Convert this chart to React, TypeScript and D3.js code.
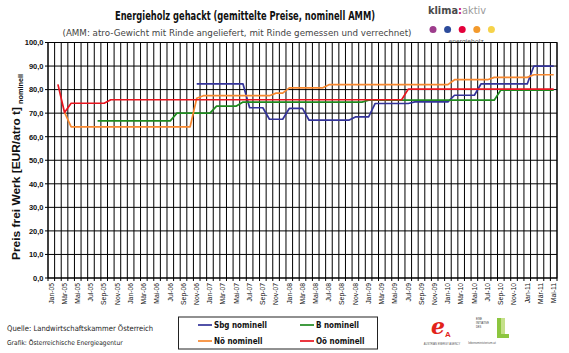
import { scaleBand, scaleLinear, line, range } from "d3";

// month names as printed on the axis, years 2005..2011, last month Mai-11
const monthNames = ["Jan", "Feb", "Mär", "Apr", "Mai", "Jun", "Jul", "Aug", "Sep", "Okt", "Nov", "Dez"];
const yearLabels = ["05", "06", "07", "08", "09", "10", "11"];
const lastMonthCount = 5;

const categories: string[] = yearLabels.flatMap((y, yi) =>
  monthNames.slice(0, yi === yearLabels.length - 1 ? lastMonthCount : 12).map((m) => `${m}-${y}`)
);

const yTicks = [0, 10, 20, 30, 40, 50, 60, 70, 80, 90, 100];

// EUR/atro t, one value per month (null = no data)
const sbg: (number | null)[] = [
  null, null, null, null, null, null, null, null, null, null, null, null,
  null, null, null, null, null, null, null, null, null, null, 82.4, 82.4,
  82.4, 82.4, 82.4, 82.4, 82.4, 82.4, 72.3, 72.3, 72.3, 67.4, 67.4, 67.4,
  72.0, 72.0, 72.0, 67.0, 67.0, 67.0, 67.0, 67.0, 67.0, 67.0, 68.4, 68.4,
  68.4, 74.1, 74.1, 74.1, 74.1, 74.1, 74.1, 74.8, 74.8, 74.8, 74.8, 74.8,
  74.8, 77.6, 77.6, 77.6, 77.6, 82.4, 82.4, 82.4, 82.4, 82.4, 82.4, 82.4,
  82.4, 90.0, 90.0, 90.0, 90.0,
];
const bgl: (number | null)[] = [
  null, null, null, null, null, null, null, 66.7, 66.7, 66.7, 66.7, 66.7,
  66.7, 66.7, 66.7, 66.7, 66.7, 66.7, 66.7, 70.0, 70.0, 70.0, 70.0, 70.0,
  70.0, 73.0, 73.0, 73.0, 73.0, 74.7, 74.7, 74.7, 74.7, 74.7, 74.7, 74.7,
  74.7, 74.7, 74.7, 74.7, 74.7, 74.7, 74.7, 74.7, 74.7, 74.7, 74.7, 74.7,
  75.5, 75.5, 75.5, 75.5, 75.5, 75.5, 75.5, 75.5, 75.5, 75.5, 75.5, 75.5,
  75.5, 75.5, 75.5, 75.5, 75.5, 75.5, 75.5, 75.5, 79.8, 79.8, 79.8, 79.8,
  79.8, 79.8, 79.8, 79.8, 79.8,
];
const noe: (number | null)[] = [
  null, null, 70.3, 64.2, 64.2, 64.2, 64.2, 64.2, 64.2, 64.2, 64.2, 64.2,
  64.2, 64.2, 64.2, 64.2, 64.2, 64.2, 64.2, 64.2, 64.2, 64.2, 76.3, 77.4,
  77.4, 77.4, 77.4, 77.4, 77.4, 77.4, 77.4, 77.4, 77.4, 77.4, 78.5, 78.5,
  80.7, 80.7, 80.7, 80.7, 80.7, 80.7, 82.1, 82.1, 82.1, 82.1, 82.1, 82.1,
  82.1, 82.1, 82.1, 82.1, 82.1, 82.1, 82.1, 82.1, 82.1, 82.1, 82.1, 82.1,
  82.1, 84.2, 84.2, 84.2, 84.2, 84.2, 84.2, 85.2, 85.2, 85.2, 85.2, 85.2,
  85.2, 86.3, 86.3, 86.3, 86.3,
];
const ooe: (number | null)[] = [
  null, 82.2, 70.3, 74.2, 74.2, 74.2, 74.2, 74.2, 74.2, 75.7, 75.7, 75.7,
  75.7, 75.7, 75.7, 75.7, 75.7, 75.7, 75.7, 75.7, 75.7, 75.7, 75.7, 75.7,
  75.7, 75.7, 75.7, 75.7, 75.7, 75.7, 75.7, 75.7, 75.7, 75.7, 75.7, 75.7,
  75.7, 75.7, 75.7, 75.7, 75.7, 75.7, 75.7, 75.7, 75.7, 75.7, 75.7, 75.7,
  75.7, 75.7, 75.7, 75.7, 75.7, 75.7, 80.2, 80.2, 80.2, 80.2, 80.2, 80.2,
  80.2, 80.2, 80.2, 80.2, 80.2, 80.2, 80.2, 80.2, 80.2, 80.2, 80.2, 80.2,
  80.2, 80.2, 80.2, 80.2, 80.2,
];

const series = [
  { name: "Sbg nominell", values: sbg, color: "#333399" },
  { name: "B nominell", values: bgl, color: "#1f8a1f" },
  { name: "Nö nominell", values: noe, color: "#f7882f" },
  { name: "Oö nominell", values: ooe, color: "#e8141e" },
];

const font = "'Liberation Sans', Arial, sans-serif";
const condensed = "'DejaVu Sans Condensed', 'Liberation Sans Narrow', Arial, sans-serif";

export default function App() {
  const W = 569;
  const H = 353;
  const left = 48;
  const right = 557;
  const top = 42.5;
  const bottom = 278;

  const x = scaleBand<string>().domain(categories).range([left, right]).padding(0);
  const y = scaleLinear().domain([0, 100]).range([bottom, top]);
  const bw = x.bandwidth();
  const cx = (i: number) => (x(categories[i]) ?? 0) + bw / 2;

  const path = line<number | null>()
    .defined((d) => d != null)
    .x((_, i) => cx(i))
    .y((d) => y(d as number));

  const gridX = range(categories.length + 1).map((i) => left + i * bw);

  const legendRows = [
    [series[0], series[1]],
    [series[2], series[3]],
  ];

  return (
    <svg
      width={W}
      height={H}
      style={{ position: "absolute", left: 0, top: 0, background: "#fff" }}
      fontFamily={font}
    >
      {/* title */}
      <text x={245} y={20} textAnchor="middle" fontFamily={condensed} fontWeight="bold" fontSize={11.5} textLength={260} lengthAdjust="spacingAndGlyphs" fill="#111">
        Energieholz gehackt (gemittelte Preise, nominell AMM)
      </text>
      <text x={237} y={36} textAnchor="middle" fontFamily={condensed} fontSize={9.5} textLength={349} lengthAdjust="spacingAndGlyphs" fill="#444">
        (AMM: atro-Gewicht mit Rinde angeliefert, mit Rinde gemessen und verrechnet)
      </text>

      {/* klima:aktiv logo */}
      <text x={428} y={14} fontSize={10.5} fontFamily={condensed} textLength={58} lengthAdjust="spacingAndGlyphs">
        <tspan fontWeight="bold" fill="#4a4a4a">klima</tspan><tspan fontWeight="bold" fill="#c8106e">:</tspan><tspan fill="#9a9a9a">aktiv</tspan>
      </text>
      {["#9d3c8c", "#2c4b9b", "#e4003a", "#f39a2c", "#f6d34a"].map((c, i) => (
        <circle key={i} cx={433 + i * 14.6} cy={29.5} r={3.5} fill={c} />
      ))}
      <text x={466} y={43.5} textAnchor="middle" fontSize={6.8} fill="#555">energieholz</text>

      {/* plot area grid */}
      <rect x={left} y={top} width={right - left} height={bottom - top} fill="#fff" />
      {gridX.map((gx, i) => (
        <line key={`gx${i}`} x1={gx} x2={gx} y1={top} y2={bottom + 3} stroke="#000" strokeWidth={1} />
      ))}
      {yTicks.map((t) => (
        <line key={`gy${t}`} x1={left - 3} x2={right} y1={y(t)} y2={y(t)} stroke="#000" strokeWidth={1} />
      ))}
      <rect x={left} y={top} width={right - left} height={bottom - top} fill="none" stroke="#000" strokeWidth={1} />

      {/* y axis labels */}
      {yTicks.map((t) => (
        <text key={`yl${t}`} x={43.5} y={y(t) + 2.8} textAnchor="end" fontSize={7.5} fontWeight="bold" fill="#111">
          {t.toFixed(1).replace(".", ",")}
        </text>
      ))}
      <text transform="translate(19.5,260) rotate(-90)" fontSize={11} fontWeight="bold" textLength={153} lengthAdjust="spacingAndGlyphs" fill="#111">
        Preis frei Werk [EUR/atro t]
      </text>
      <text transform="translate(23,104) rotate(-90)" fontSize={6.5} fontWeight="bold" textLength={30} lengthAdjust="spacingAndGlyphs" fill="#111">
        nominell
      </text>

      {/* x axis labels, every second month */}
      {categories.map((c, i) =>
        i % 2 === 0 ? (
          <text
            key={c}
            transform={`translate(${cx(i) + 2.3},${bottom + 5}) rotate(-90)`}
            textAnchor="end"
            fontSize={6.8}
            fill="#111"
          >
            {c}
          </text>
        ) : null
      )}

      {/* series */}
      {series.map((s) => (
        <path key={s.name} d={path(s.values) ?? ""} fill="none" stroke={s.color} strokeWidth={1.7} strokeLinejoin="round" />
      ))}

      {/* source notes */}
      <text x={7} y={331} fontSize={7.6} fontFamily={condensed} fill="#222">Quelle: Landwirtschaftskammer Österreich</text>
      <text x={7} y={345} fontSize={6.6} fontFamily={condensed} fill="#222">Grafik: Österreichische Energieagentur</text>

      {/* legend */}
      <rect x={178.5} y={317} width={199} height={32} fill="#fff" stroke="#222" strokeWidth={1} />
      {legendRows.map((row, ri) =>
        row.map((s, ci) => {
          const lx = ci === 0 ? 198 : 300;
          const ly = ri === 0 ? 325 : 341;
          return (
            <g key={s.name}>
              <line x1={lx} x2={lx + 14} y1={ly} y2={ly} stroke={s.color} strokeWidth={1.7} />
              <text x={lx + 16} y={ly + 3} fontSize={8} fontWeight="bold" fontFamily={condensed} fill="#111">
                {s.name}
              </text>
            </g>
          );
        })
      )}

      {/* energy agency logo */}
      <text x={431} y={334} fontSize={22} fontStyle="italic" fontWeight="bold" fill="#e2231a" fontFamily="'DejaVu Serif', serif">e</text>
      <text x={445} y={337} fontSize={8} fontWeight="bold" fill="#e2231a">A</text>
      <text x={442} y={345} textAnchor="middle" fontSize={2.6} fill="#555">AUSTRIAN ENERGY AGENCY</text>

      {/* lebensministerium logo */}
      <text x={476} y={320} fontSize={2.6} fill="#333">EINE</text>
      <text x={476} y={324} fontSize={2.6} fill="#333">INITIATIVE</text>
      <text x={476} y={328} fontSize={2.6} fill="#333">DES</text>
      <rect x={497} y={318} width={4} height={20} fill="#8cc63f" />
      <rect x={497} y={334} width={12} height={4} fill="#8cc63f" />
      <rect x={501} y={318} width={4} height={16} fill="#c5e08a" />
      <text x={482} y={344} textAnchor="middle" fontSize={3} fill="#555">lebensministerium.at</text>
    </svg>
  );
}
